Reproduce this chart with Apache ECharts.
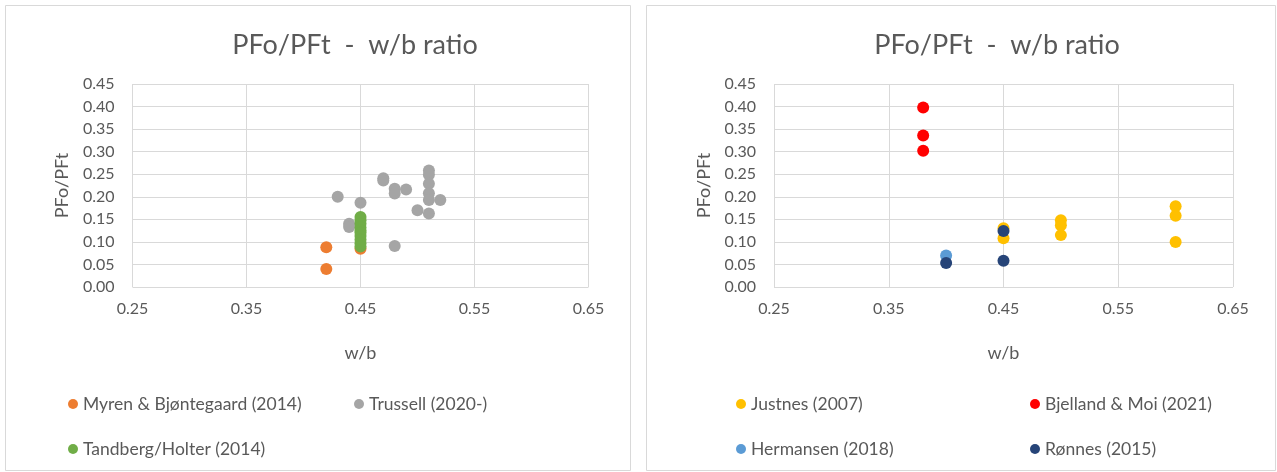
<!DOCTYPE html>
<html>
<head>
<meta charset="utf-8">
<script src="https://cdn.jsdelivr.net/npm/echarts@6/dist/echarts.min.js"></script>
<style>
html,body{margin:0;padding:0;background:#fff;}
#c{width:1277px;height:472px;}
</style>
</head>
<body>
<div id="c"></div>
<script>
// ---- data ----
const titleText = 'PFo/PFt  -  w/b ratio';
const xTicks = [0.25, 0.35, 0.45, 0.55, 0.65];
const yMin = 0, yMax = 0.45, yStep = 0.05;

const myren = [[0.42, 0.088], [0.42, 0.040], [0.45, 0.085]];
const trussell = [
  [0.43, 0.200], [0.45, 0.187], [0.44, 0.140], [0.44, 0.133],
  [0.47, 0.241], [0.47, 0.236], [0.48, 0.218], [0.48, 0.207],
  [0.49, 0.216], [0.48, 0.091], [0.50, 0.170], [0.51, 0.163],
  [0.51, 0.258], [0.51, 0.249], [0.51, 0.229], [0.51, 0.208],
  [0.51, 0.193], [0.52, 0.193]
];
const tandberg = [
  [0.45, 0.155], [0.45, 0.148], [0.45, 0.140], [0.45, 0.132], [0.45, 0.125],
  [0.45, 0.120], [0.45, 0.113], [0.45, 0.105], [0.45, 0.097], [0.45, 0.090]
];
const justnes = [[0.45, 0.130], [0.45, 0.108], [0.50, 0.148], [0.50, 0.137], [0.50, 0.115],
                 [0.60, 0.179], [0.60, 0.158], [0.60, 0.100]];
const bjelland = [[0.38, 0.398], [0.38, 0.336], [0.38, 0.302]];
const hermansen = [[0.40, 0.070]];
const ronnes = [[0.40, 0.053], [0.45, 0.124], [0.45, 0.058]];

const leftNames = ['Myren & Bjøntegaard (2014)', 'Trussell (2020-)', 'Tandberg/Holter (2014)'];
const rightNames = ['Justnes (2007)', 'Bjelland & Moi (2021)', 'Hermansen (2018)', 'Rønnes (2015)'];

// ---- styles ----
const FONT = 'Lato, "Open Sans", sans-serif';
const TXT = '#595959';
const GRIDC = '#d9d9d9';
const colors = {
  myren: '#ED7D31', trussell: '#A5A5A5', tandberg: '#70AD47',
  justnes: '#FFC000', bjelland: '#FF0000', hermansen: '#5B9BD5', ronnes: '#264478'
};

function xAxis(gi) {
  return {
    type: 'value', gridIndex: gi, min: 0.25, max: 0.65,
    name: 'w/b', nameLocation: 'middle', nameGap: 57,
    nameTextStyle: { color: TXT, fontFamily: FONT, fontSize: 18 },
    axisLine: { show: false }, axisTick: { show: false, customValues: xTicks },
    axisLabel: { customValues: xTicks, color: TXT, fontFamily: FONT, fontSize: 16, margin: 14,
      formatter: v => v.toFixed(2) },
    splitLine: { show: true, lineStyle: { color: GRIDC, width: 1 } }
  };
}
function yAxis(gi) {
  return {
    type: 'value', gridIndex: gi, min: yMin, max: yMax, interval: yStep,
    name: 'PFo/PFt', nameLocation: 'middle', nameGap: 61, nameRotate: 90,
    nameTextStyle: { color: TXT, fontFamily: FONT, fontSize: 18 },
    axisLine: { show: false }, axisTick: { show: false },
    axisLabel: { color: TXT, fontFamily: FONT, fontSize: 16, margin: 18,
      formatter: v => v.toFixed(2) },
    splitLine: { show: true, lineStyle: { color: GRIDC, width: 1 } }
  };
}
function sc(name, data, color, gi) {
  return { type: 'scatter', name, data, xAxisIndex: gi, yAxisIndex: gi,
    symbolSize: 12, itemStyle: { color, opacity: 1 }, emphasis: { disabled: true } };
}
function leg(name, left, top) {
  return { data: [name], left, top, icon: 'circle', itemWidth: 10, itemHeight: 10,
    padding: 0, selectedMode: false,
    textStyle: { color: TXT, fontFamily: FONT, fontSize: 17.5 } };
}
const titleStyle = { color: TXT, fontFamily: FONT, fontSize: 27, fontWeight: 'normal' };

const chart = echarts.init(document.getElementById('c'), null, { renderer: 'canvas' });
chart.setOption({
  animation: false,
  backgroundColor: '#fff',
  graphic: [
    { type: 'rect', shape: { x: 5.5, y: 5.5, width: 625, height: 465 },
      style: { fill: 'none', stroke: GRIDC, lineWidth: 1 }, z: -10 },
    { type: 'rect', shape: { x: 646.5, y: 5.5, width: 629, height: 465 },
      style: { fill: 'none', stroke: GRIDC, lineWidth: 1 }, z: -10 }
  ],
  title: [
    { text: titleText, left: 355, top: 45, textAlign: 'center', textVerticalAlign: 'middle', padding: 0, textStyle: titleStyle },
    { text: titleText, left: 997, top: 45, textAlign: 'center', textVerticalAlign: 'middle', padding: 0, textStyle: titleStyle }
  ],
  grid: [
    { left: 132.5, top: 84, width: 456, height: 203, containLabel: false },
    { left: 774, top: 84, width: 459, height: 203, containLabel: false }
  ],
  xAxis: [xAxis(0), xAxis(1)],
  yAxis: [yAxis(0), yAxis(1)],
  legend: [
    leg(leftNames[0], 68, 395),
    leg(leftNames[1], 354, 395),
    leg(leftNames[2], 68, 440),
    leg(rightNames[0], 736, 395),
    leg(rightNames[1], 1030, 395),
    leg(rightNames[2], 736, 440),
    leg(rightNames[3], 1030, 440)
  ],
  series: [
    sc(leftNames[0], myren, colors.myren, 0),
    sc(leftNames[1], trussell, colors.trussell, 0),
    sc(leftNames[2], tandberg, colors.tandberg, 0),
    sc(rightNames[0], justnes, colors.justnes, 1),
    sc(rightNames[1], bjelland, colors.bjelland, 1),
    sc(rightNames[2], hermansen, colors.hermansen, 1),
    sc(rightNames[3], ronnes, colors.ronnes, 1)
  ]
});
</script>
</body>
</html>
